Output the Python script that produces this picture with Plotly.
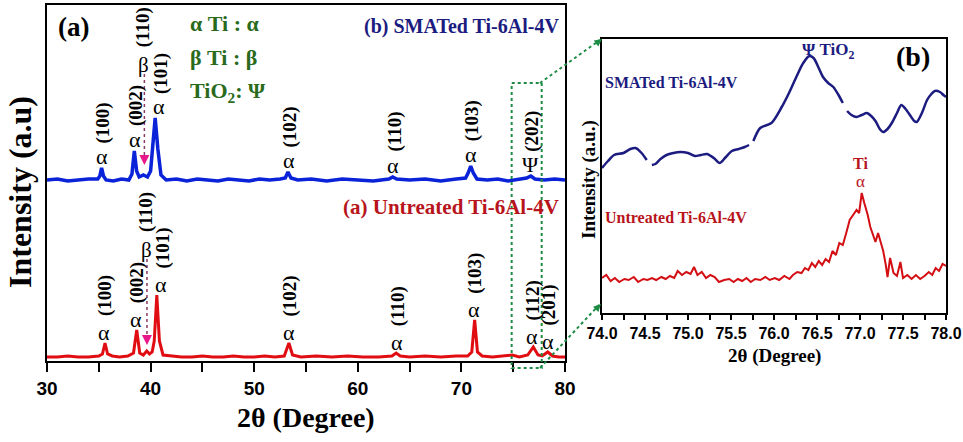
import plotly.graph_objects as go

# ---------------- data: panel (a) full XRD patterns (intensity, arbitrary units) -------------
untreated_x = [30, 31, 32, 33, 34, 35.0, 35.35, 35.6, 35.85, 36.3, 37.0, 37.8, 38.35, 38.66, 38.95,
               39.3, 39.63, 39.9, 40.15, 40.35, 40.6, 40.85, 41.2, 42, 43, 44, 45, 46, 47, 48,
               49, 50, 51, 52, 52.9, 53.35, 53.7, 54.5, 56, 57.5, 59, 60.5, 62, 63.3, 63.7,
               64.1, 65, 66.5, 68, 69.5, 70.6, 71.0, 71.28, 71.55, 72.0, 73, 74, 74.9, 75.6, 76.4,
               76.94, 77.4, 77.8, 78.33, 78.8, 79.4, 80]
untreated_y = [4, 4, 5, 4, 4, 5, 7, 18, 7, 5, 4, 5, 8, 31, 8,
               6, 10, 7, 9, 20, 66, 20, 6, 5, 4, 4, 5, 4, 4, 5,
               4, 4, 5, 4, 5, 18, 6, 4, 5, 4, 5, 4, 4, 5, 8,
               5, 4, 5, 4, 5, 5, 9, 41, 9, 5, 4, 5, 6, 4, 6,
               14, 6, 5, 9, 5, 4, 4]

smated_x = [30, 31, 32, 33, 34, 34.9, 35.1, 35.27, 35.45, 35.7, 36.4, 37.2, 37.9, 38.2, 38.43,
            38.65, 38.9, 39.3, 39.7, 40.0, 40.2, 40.44, 40.7, 41.0, 41.5, 42.5, 43.5, 44.5, 45.5, 46.5,
            47.5, 48.5, 49.5, 50.5, 51.5, 52.5, 53.0, 53.26, 53.55, 54.2, 55.5, 57, 58.5, 60, 61.5,
            63.0, 63.37, 63.75, 65, 66.5, 68, 69.5, 70.4, 70.65, 70.9, 71.15, 71.5, 72.5, 73.5, 74.5,
            75.5, 76.3, 76.7, 77.1, 78, 79, 80]
smated_y = [181, 182, 180, 181, 182, 182, 185, 193, 185, 181, 180, 182, 181, 187, 210,
            190, 184, 186, 184, 190, 215, 243, 212, 186, 181, 182, 180, 182, 181, 180,
            182, 181, 180, 182, 181, 182, 183, 189, 183, 181, 182, 180, 182, 181, 180,
            182, 184, 182, 181, 182, 180, 182, 183, 188, 195, 188, 182, 181, 182, 180,
            182, 183, 185, 182, 181, 182, 181]

# peak labels (hkl, 2theta, peak intensity, phase symbol)
untreated_hkl = ["(100)", "(002)", "(101)", "(102)", "(110)", "(103)", "(112)", "(201)"]
untreated_pos = [35.5, 38.6, 40.6, 53.4, 63.8, 71.2, 76.85, 78.4]
untreated_pk = [18, 31, 66, 18, 8, 41, 14, 9]
untreated_sym = ["α", "α", "α", "α", "α", "α", "α", "α"]

smated_hkl = ["(100)", "(002)", "(101)", "(102)", "(110)", "(103)", "(202)"]
smated_pos = [35.3, 38.45, 40.6, 53.35, 63.4, 70.9, 76.65]
smated_pk = [193, 210, 243, 189, 184, 195, 185]
smated_sym = ["α", "α", "α", "α", "α", "α", "Ψ"]

# ---------------- data: panel (b) zoom 74-78 degrees --------------------------------------
zoom_red_x = [74.00, 74.05, 74.10, 74.15, 74.20, 74.26, 74.31, 74.37, 74.42, 74.48, 74.53, 74.58, 74.63,
              74.69, 74.74, 74.79, 74.84, 74.88, 74.93, 74.98, 75.03, 75.07, 75.11, 75.16, 75.21, 75.26,
              75.31, 75.36, 75.42, 75.48, 75.53, 75.58, 75.63, 75.68, 75.73, 75.78, 75.84, 75.90, 75.95,
              76.01, 76.06, 76.12, 76.18, 76.22, 76.27, 76.32, 76.36, 76.40, 76.44, 76.48, 76.52, 76.56,
              76.60, 76.64, 76.68, 76.72, 76.76, 76.80, 76.84, 76.88, 76.92, 76.96, 76.99, 77.02, 77.05,
              77.09, 77.12, 77.15, 77.18, 77.21, 77.24, 77.27, 77.30, 77.32, 77.35, 77.39, 77.43, 77.47,
              77.50, 77.55, 77.60, 77.65, 77.70, 77.75, 77.80, 77.84, 77.88, 77.92, 77.96, 78.00]
zoom_red_y = [35, 38, 32, 35, 31, 34, 33, 36, 31, 34, 33, 35, 33,
              36, 34, 37, 35, 42, 38, 41, 39, 46, 38, 41, 35, 38,
              36, 31, 33, 34, 31, 34, 32, 35, 31, 34, 33, 36, 33,
              35, 33, 37, 34, 38, 41, 40, 45, 43, 50, 46, 52, 48,
              54, 51, 62, 58, 70, 68, 80, 93, 98, 103, 100, 120, 110,
              98, 86, 78, 71, 80, 72, 62, 48, 36, 55, 40, 37, 51,
              35, 38, 34, 38, 34, 37, 41, 38, 45, 42, 49, 47]

zoom_blue_x = [74.00, 74.07, 74.14, 74.25, 74.33, 74.39, 74.46, 74.52, 74.55, 74.58, 74.62, 74.68, 74.75,
               74.83, 74.91, 75.00, 75.08, 75.15, 75.22, 75.30, 75.37, 75.44, 75.51, 75.59, 75.66, 75.71,
               75.73, 75.76, 75.84, 75.97, 76.09, 76.18, 76.27, 76.34, 76.41, 76.46, 76.52, 76.57, 76.63,
               76.69, 76.75, 76.80, 76.82, 76.85, 76.90, 76.96, 77.02, 77.08, 77.13, 77.18, 77.23, 77.27,
               77.32, 77.37, 77.43, 77.48, 77.53, 77.58, 77.63, 77.66, 77.72, 77.78, 77.83, 77.87, 77.93,
               77.97, 78.00]
zoom_blue_y = [145, 152, 158, 160, 164, 165, 160, 153, None, 148, 149, 154, 158,
               160, 161, 160, 157, 158, 159, 155, 150, 156, 162, 164, 166, 168,
               None, 172, 185, 190, 206, 221, 238, 250, 257, 255, 245, 236, 230,
               226, 218, 210, None, 202, 198, 196, 198, 200, 197, 192, 184, 181,
               184, 190, 200, 208, 204, 198, 192, 191, 200, 213, 219, 222, 221,
               218, 216]

# ---------------- styling -----------------------------------------------------------------
SERIF = "Liberation Serif"
SANS = "Liberation Sans Narrow, Liberation Sans, Arial"
BLUE = "#0a22d8"
NAVY = "#1c1c80"
RED = "#e00d12"
DRED = "#b8141c"
GREEN = "#2a6a1c"
DOTGREEN = "#1e8c45"
W, H = 963, 442

def px(x):
    return x / W

def py(y):
    return 1 - y / H

fig = go.Figure()
fig.add_trace(go.Scatter(x=untreated_x, y=untreated_y, mode="lines",
                         line=dict(color=RED, width=3), xaxis="x", yaxis="y"))
fig.add_trace(go.Scatter(x=smated_x, y=smated_y, mode="lines",
                         line=dict(color=BLUE, width=3.5), xaxis="x", yaxis="y"))
fig.add_trace(go.Scatter(x=zoom_blue_x, y=zoom_blue_y, mode="lines", connectgaps=False,
                         line=dict(color=NAVY, width=2.5, shape="spline", smoothing=0.8),
                         xaxis="x2", yaxis="y2"))
fig.add_trace(go.Scatter(x=zoom_red_x, y=zoom_red_y, mode="lines",
                         line=dict(color="#d40f14", width=2), xaxis="x2", yaxis="y2"))

ann = []

def text(x, y, t, size, color="black", bold=True, xref="paper", yref="paper", angle=0,
         xanchor="center", yanchor="middle"):
    ann.append(dict(x=x, y=y, xref=xref, yref=yref, text=t, showarrow=False, textangle=angle,
                    xanchor=xanchor, yanchor=yanchor,
                    font=dict(family=SERIF, size=size, color=color,
                              weight="bold" if bold else "normal")))

# peak labels panel (a)
for hkl, pos, pk, sym in zip(untreated_hkl, untreated_pos, untreated_pk, untreated_sym):
    dx = 0.45 if hkl == "(101)" else 0.0
    text(pos + dx, pk + 11, sym, 22, bold=False, xref="x", yref="y")
    text(pos + dx + 0.1, pk + 47, hkl, 19, xref="x", yref="y", angle=-90)
for hkl, pos, pk, sym in zip(smated_hkl, smated_pos, smated_pk, smated_sym):
    dx = 0.25 if hkl == "(101)" else 0.0
    text(pos + dx, pk + 11, sym, 22, bold=False, xref="x", yref="y")
    text(pos + dx + 0.15, pk + 45, hkl, 19, xref="x", yref="y", angle=-90)

# beta (110) labels with dotted arrows
text(39.35, 296, "β", 21, bold=False, xref="x", yref="y")
text(39.3, 334, "(110)", 19, xref="x", yref="y", angle=-90)
text(39.6, 111, "β", 21, bold=False, xref="x", yref="y")
text(39.55, 149, "(110)", 19, xref="x", yref="y", angle=-90)

shapes = []
for bx, ytop, ybot in [(39.4, 287, 198), (39.65, 102, 18)]:
    shapes.append(dict(type="line", xref="x", yref="y", x0=bx, x1=bx, y0=ytop, y1=ybot,
                       line=dict(color="#8a3a62", width=1.5, dash="dot")))
    ann.append(dict(x=bx, y=ybot - 2, xref="x", yref="y", ax=0, ay=-9, showarrow=True,
                    arrowhead=2, arrowsize=1, arrowwidth=2, arrowcolor="#e8198a", text=""))

# titles & legend text panel (a)
text(px(73), py(27), "(a)", 27)
text(px(188), py(23), "α Ti : α", 22, GREEN, xanchor="left")
text(px(188), py(58), "β Ti : β", 22, GREEN, xanchor="left")
text(px(188), py(92), "TiO<sub>2</sub>: Ψ", 22, GREEN, xanchor="left")
text(px(561), py(26), "(b) SMATed Ti-6Al-4V", 20, NAVY, xanchor="right")
text(px(561), py(207), "(a) Untreated Ti-6Al-4V", 21, DRED, xanchor="right")
text(px(306), py(417), "2θ (Degree)", 28)
text(px(20), py(192), "Intensity (a.u)", 32, angle=-90)

# panel (b) texts
text(px(603), py(82), "SMATed Ti-6Al-4V", 16, NAVY, xanchor="left")
text(px(603), py(217), "Untreated Ti-6Al-4V", 16, DRED, xanchor="left")
text(px(800), py(51), "Ψ TiO<sub>2</sub>", 17, NAVY, xanchor="left")
text(px(913), py(56), "(b)", 28)
text(px(860), py(163), "Ti", 16, DRED)
text(px(860), py(181), "α", 17, DRED, bold=False)
text(px(774), py(356), "2θ (Degree)", 19)
text(px(589), py(180), "Intensity (a.u.)", 19, angle=-90)

# green dotted zoom box and connectors
shapes.append(dict(type="rect", xref="x", yref="paper", x0=74.85, x1=77.75, y0=py(368), y1=py(83),
                   line=dict(color=DOTGREEN, width=2, dash="dot")))
shapes.append(dict(type="line", xref="paper", yref="paper", x0=px(540), y0=py(83), x1=px(600), y1=py(40),
                   line=dict(color=DOTGREEN, width=2, dash="dot")))
shapes.append(dict(type="line", xref="paper", yref="paper", x0=px(540), y0=py(368), x1=px(599), y1=py(305),
                   line=dict(color=DOTGREEN, width=2, dash="dot")))
ann.append(dict(x=px(602), y=py(39), xref="paper", yref="paper", ax=-8, ay=6, showarrow=True,
                arrowhead=2, arrowsize=1, arrowwidth=1.5, arrowcolor=DOTGREEN, text=""))
ann.append(dict(x=px(601), y=py(304), xref="paper", yref="paper", ax=-7, ay=7, showarrow=True,
                arrowhead=2, arrowsize=1, arrowwidth=1.5, arrowcolor=DOTGREEN, text=""))

axis_common = dict(showline=True, linecolor="black", mirror=True, showgrid=False, zeroline=False,
                   automargin=False)

fig.update_layout(
    width=W, height=H, margin=dict(l=0, r=0, t=0, b=0, autoexpand=False),
    paper_bgcolor="white", plot_bgcolor="white", showlegend=False,
    xaxis=dict(domain=[px(47), px(565)], range=[30, 80], anchor="y", linewidth=2,
               tick0=30, dtick=10, ticks="outside", ticklen=9, tickwidth=2, tickangle=0,
               minor=dict(dtick=5, tick0=30, ticks="outside", ticklen=9, tickwidth=2, tickcolor="black",
                          showgrid=False),
               tickcolor="black", tickfont=dict(family=SANS, size=19, color="black", weight="bold"),
               **axis_common),
    yaxis=dict(domain=[py(361), py(5)], range=[0, 356], anchor="x", linewidth=2,
               showticklabels=False, ticks="", **axis_common),
    xaxis2=dict(domain=[px(602), px(946)], range=[74, 78], anchor="y2", linewidth=2,
                tick0=74, dtick=0.5, tickformat=".1f", ticks="outside", ticklen=5, tickwidth=1.5,
                tickangle=0,
                minor=dict(dtick=0.25, tick0=74, ticks="outside", ticklen=5, tickwidth=1.5,
                           tickcolor="black", showgrid=False),
                tickcolor="black", tickfont=dict(family=SANS, size=16, color="black", weight="bold"),
                **axis_common),
    yaxis2=dict(domain=[py(313), py(39)], range=[0, 274], anchor="x2", linewidth=2,
                showticklabels=False, ticks="", **axis_common),
    annotations=ann, shapes=shapes,
)

fig.write_html("out.html", config={"displayModeBar": False},
               post_script="document.body.style.margin='0';document.body.style.padding='0';")
